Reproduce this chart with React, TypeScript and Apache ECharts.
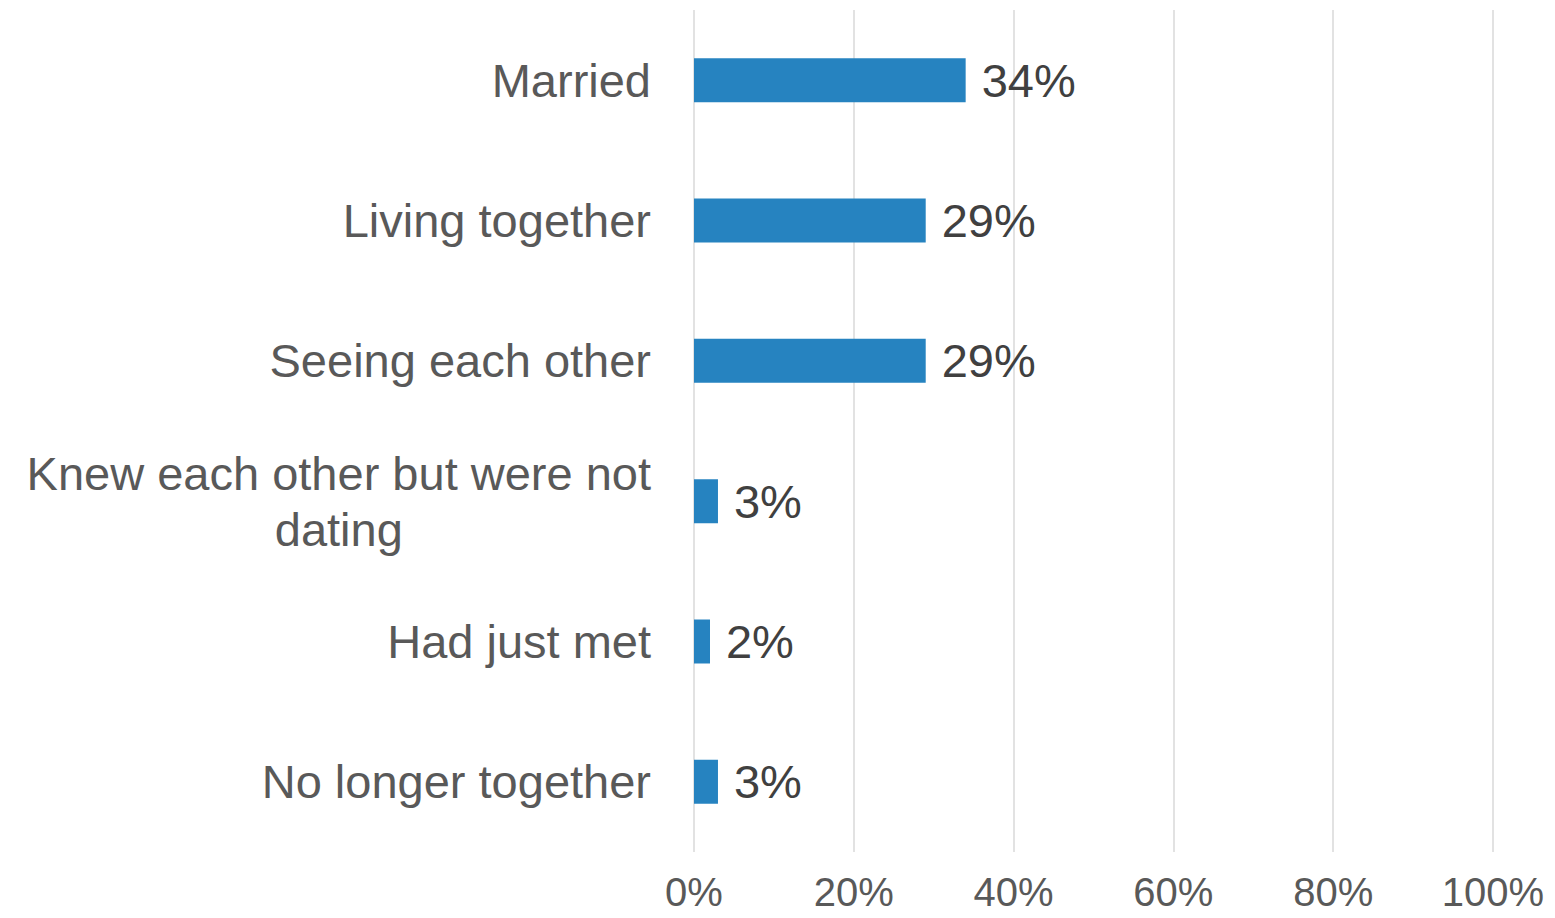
import React, { useEffect, useRef } from "react";
import * as echarts from "echarts";

const categories = [
  "Married",
  "Living together",
  "Seeing each other",
  "Knew each other but were not\ndating",
  "Had just met",
  "No longer together",
];
const values = [34, 29, 29, 3, 2, 3];
const xTicks = [0, 20, 40, 60, 80, 100];

export default function App() {
  const ref = useRef<HTMLDivElement>(null);
  useEffect(() => {
    document.body.style.margin = "0";
    const chart = echarts.init(ref.current!, null, { renderer: "svg", width: 1555, height: 918 });
    chart.setOption({
      animation: false,
      backgroundColor: "#ffffff",
      grid: { left: 694, right: 62, top: 10, bottom: 66, containLabel: false },
      xAxis: {
        type: "value",
        min: xTicks[0],
        max: xTicks[xTicks.length - 1],
        interval: 20,
        axisLine: { show: false },
        axisTick: { show: false },
        splitLine: { show: true, lineStyle: { color: "#d9d9d9", width: 1.5 } },
        axisLabel: {
          formatter: "{value}%",
          fontFamily: "'Liberation Sans', Arial, sans-serif",
          fontSize: 40,
          color: "#595959",
          margin: 20,
        },
      },
      yAxis: {
        type: "category",
        data: categories,
        inverse: true,
        axisLine: { show: false },
        axisTick: { show: false },
        axisLabel: {
          margin: 43,
          formatter: (v: string) =>
            v
              .split("\n")
              .map((s) => `{c|${s}}`)
              .join("\n"),
          rich: {
            c: {
              fontFamily: "'Liberation Sans', Arial, sans-serif",
              fontSize: 47,
              color: "#595959",
              lineHeight: 56,
              align: "center",
            },
          },
        },
      },
      series: [
        {
          type: "bar",
          data: values,
          barWidth: 44,
          itemStyle: { color: "#2683c0" },
          label: {
            show: true,
            position: "right",
            distance: 16,
            formatter: "{c}%",
            fontFamily: "'Liberation Sans', Arial, sans-serif",
            fontSize: 47,
            color: "#404040",
          },
        },
      ],
    });
    return () => chart.dispose();
  }, []);
  return (
    <div
      ref={ref}
      style={{ position: "absolute", left: 0, top: 0, width: 1555, height: 918, overflow: "hidden" }}
    />
  );
}
